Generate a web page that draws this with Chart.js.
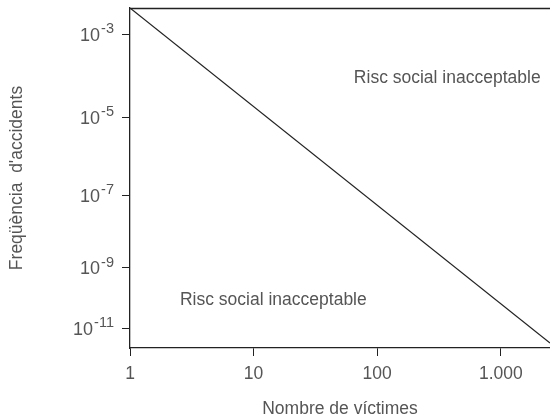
<!DOCTYPE html>
<html>
<head>
<meta charset="utf-8">
<script src="https://cdn.jsdelivr.net/npm/chart.js@4/dist/chart.umd.min.js"></script>
<style>
  html, body { margin: 0; padding: 0; background: #fff; }
  canvas { display: block; }
</style>
</head>
<body>
<canvas id="fn" width="550" height="420"></canvas>
<script>
// Number of victims (N) on the x axis, accident frequency (F) on the y axis
const victimTicks = [1, 10, 100, 1000];
const victimTickLabels = ['1', '10', '100', '1.000'];
const freqExponents = [-3, -5, -7, -9, -11];

// Criterion line, end points (N, F)
const criterionN = [1, 2500];
const criterionF = [4e-3, 3e-12];

const regionTexts = ['Risc social inacceptable', 'Risc social inacceptable'];

// Axis drawing settings
const FONT = '"Liberation Sans", Arial, Helvetica, sans-serif';
const TEXT = '#555555';
const INK = '#222222';
const FONT_SIZE = 17.5;

// The frequency axis is drawn with uneven decade spacing:
// exponent -> fraction of the axis height at which it sits
const freqAxisStops = [
  [-11, 0.0588],
  [-9, 0.2353],
  [-7, 0.4500],
  [-5, 0.6794],
  [-3, 0.9235]
];

class StretchedLogScale extends Chart.LogarithmicScale {
  static id = 'stretchedLog';
  static defaults = {};

  _stops() {
    return [[Math.log10(this.min), 0], ...freqAxisStops, [Math.log10(this.max), 1]];
  }
  _decimalFor(e) {
    const s = this._stops();
    let i = 0;
    while (i < s.length - 2 && e > s[i + 1][0]) i++;
    const t = (e - s[i][0]) / (s[i + 1][0] - s[i][0]);
    return s[i][1] + t * (s[i + 1][1] - s[i][1]);
  }
  getPixelForValue(value) {
    if (value === undefined || value === 0) value = this.min;
    if (value === null || isNaN(value)) return NaN;
    return this.getPixelForDecimal(this._decimalFor(Math.log10(value)));
  }
  getValueForPixel(pixel) {
    const d = this.getDecimalForPixel(pixel);
    const s = this._stops();
    let i = 0;
    while (i < s.length - 2 && d > s[i + 1][1]) i++;
    const t = (d - s[i][1]) / (s[i + 1][1] - s[i][1]);
    return Math.pow(10, s[i][0] + t * (s[i + 1][0] - s[i][0]));
  }
}
Chart.register(StretchedLogScale);

// Superscripted powers of ten beside the frequency ticks
const powerLabels = {
  id: 'powerLabels',
  afterDraw(chart) {
    const y = chart.scales.y;
    const ctx = chart.ctx;
    const right = y.right - 16;
    ctx.save();
    ctx.fillStyle = TEXT;
    ctx.textAlign = 'right';
    ctx.textBaseline = 'alphabetic';
    freqExponents.forEach(e => {
      const py = y.getPixelForValue(Math.pow(10, e));
      const sup = String(e);
      ctx.font = '14.5px ' + FONT;
      const w = ctx.measureText(sup).width;
      ctx.fillText(sup, right, py - 1);
      ctx.font = '18px ' + FONT;
      ctx.fillText('10', right - w - 1, py + 6.5);
    });
    ctx.restore();
  }
};

// Top frame line and the two region captions
const frameAndCaptions = {
  id: 'frameAndCaptions',
  afterDraw(chart) {
    const { ctx, chartArea: a } = chart;
    ctx.save();
    ctx.strokeStyle = INK;
    ctx.lineWidth = 1.3;
    ctx.beginPath();
    ctx.moveTo(a.left, a.top + 0.5);
    ctx.lineTo(a.right, a.top + 0.5);
    ctx.stroke();

    ctx.fillStyle = TEXT;
    ctx.font = FONT_SIZE + 'px ' + FONT;
    ctx.textAlign = 'left';
    ctx.textBaseline = 'alphabetic';
    const w = a.right - a.left, h = a.bottom - a.top;
    ctx.fillText(regionTexts[0], a.left + 0.533 * w, a.top + 0.221 * h);
    ctx.fillText(regionTexts[1], a.left + 0.119 * w, a.top + 0.8735 * h);
    ctx.restore();
  }
};

Chart.defaults.font.family = FONT;
Chart.defaults.font.size = FONT_SIZE;
Chart.defaults.color = TEXT;

new Chart(document.getElementById('fn'), {
  type: 'line',
  data: {
    datasets: [{
      data: criterionN.map((n, i) => ({ x: n, y: criterionF[i] })),
      borderColor: INK,
      borderWidth: 1.2,
      pointRadius: 0,
      fill: false,
      tension: 0
    }]
  },
  options: {
    responsive: false,
    animation: false,
    devicePixelRatio: 1,
    events: [],
    layout: { padding: { top: 8, right: 0, bottom: 0, left: 0 } },
    plugins: { legend: { display: false }, tooltip: { enabled: false } },
    scales: {
      x: {
        type: 'logarithmic',
        min: 1,
        max: 2500,
        afterBuildTicks: s => { s.ticks = victimTicks.map(v => ({ value: v })); },
        afterFit: s => { s.height = 72; },
        ticks: {
          callback: (v, i) => victimTickLabels[i],
          color: TEXT,
          padding: 8,
          maxRotation: 0,
          autoSkip: false,
          font: { size: FONT_SIZE }
        },
        grid: { drawOnChartArea: false, drawTicks: true, tickLength: 8, color: INK, lineWidth: 1 },
        border: { display: true, color: INK, width: 1.3 },
        title: {
          display: true,
          text: 'Nombre de víctimes',
          color: TEXT,
          font: { size: FONT_SIZE },
          padding: { top: 0, bottom: 0 },
          align: 'center'
        }
      },
      y: {
        type: 'stretchedLog',
        min: 2e-12,
        max: 4e-3,
        afterBuildTicks: s => { s.ticks = freqExponents.map(e => ({ value: Math.pow(10, e) })); },
        afterFit: s => { s.width = 130; },
        ticks: { display: false },
        grid: { drawOnChartArea: false, drawTicks: true, tickLength: 8, color: INK, lineWidth: 1 },
        border: { display: true, color: INK, width: 1.3 },
        title: {
          display: true,
          text: 'Freqüència  d\'accidents',
          color: TEXT,
          font: { size: FONT_SIZE },
          padding: { top: 7, bottom: 0 }
        }
      }
    }
  },
  plugins: [powerLabels, frameAndCaptions]
});
</script>
</body>
</html>
